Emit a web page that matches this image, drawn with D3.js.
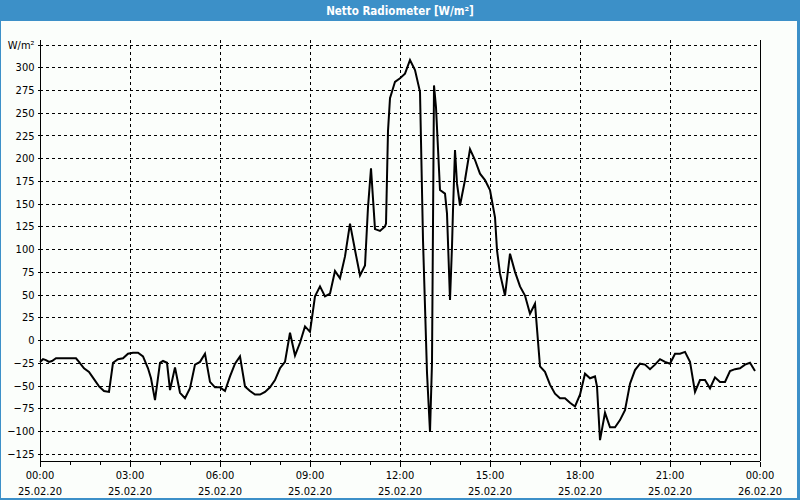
<!DOCTYPE html>
<html><head><meta charset="utf-8">
<script src="https://cdn.jsdelivr.net/npm/d3@7"></script>
<style>
html,body{margin:0;padding:0;background:#fff;}
svg{display:block;}
</style></head>
<body>
<script>
// ---- data ----
const title = "Netto Radiometer [W/m²]";
const unitLabel = "W/m²";
// minutes since 25.02.20 00:00
const minutes = [0,6,12,18,24,32,72,78,88,98,108,118,128,138,146,156,166,176,186,196,206,216,222,230,
240,246,254,260,270,280,290,300,310,320,330,340,350,360,370,380,390,400,410,420,430,440,450,460,470,480,490,
500,510,520,530,540,550,560,570,580,590,600,610,620,630,640,650,656,662,670,680,690,692,696,700,710,720,730,740,750,
760,766,774,780,784,786,788,792,800,810,814,820,824,826,830,834,840,850,860,870,880,890,900,910,914,920,930,940,950,960,970,980,990,
1000,1010,1020,1030,1040,1050,1060,1070,1080,1090,1100,1110,1114,1120,1130,1140,1150,1160,1170,1180,1190,
1200,1210,1220,1230,1240,1250,1260,1270,1280,1290,1300,1310,1320,1330,1340,1350,1360,1370,1380,1390,1400,1410,1420,1430];
const values = [-24,-21,-22,-24,-23,-20,-20,-24,-31,-35,-43,-51,-56,-57,-25,-21,-20,-15,-14,-14,-18,-31,-42,-66,
-25,-23,-25,-55,-30,-58,-64,-53,-27,-24,-15,-46,-52,-52,-56,-40,-26,-18,-51,-56,-60,-60,-57,-52,-44,-31,-24,
8,-17,-3,15,9,48,59,48,51,76,68,92,128,99,71,82,146,189,122,120,125,128,230,266,284,288,293,308,297,
273,110,-36,-101,-25,128,280,256,165,161,139,44,103,143,209,172,148,176,210,198,183,176,165,135,99,73,49,95,75,59,49,29,40,
-29,-35,-49,-59,-64,-64,-69,-73,-60,-37,-42,-40,-51,-110,-80,-96,-96,-88,-77,-48,-33,-26,
-27,-32,-27,-21,-24,-26,-15,-15,-13,-24,-57,-44,-44,-53,-41,-46,-46,-34,-32,-31,-27,-25,-34];
const yTicks = [-125,-100,-75,-50,-25,0,25,50,75,100,125,150,175,200,225,250,275,300,325];
const xTickMinutes = [0,180,360,540,720,900,1080,1260,1440];
const xTickTimes = ["00:00","03:00","06:00","09:00","12:00","15:00","18:00","21:00","00:00"];
const xTickDates = ["25.02.20","25.02.20","25.02.20","25.02.20","25.02.20","25.02.20","25.02.20","25.02.20","26.02.20"];

// ---- drawing ----
const W = 800, H = 500;
const blue = "#3c90c8";
const font = "'DejaVu Sans Condensed','DejaVu Sans',sans-serif";
const svg = d3.select("body").append("svg").attr("width", W).attr("height", H);

svg.append("rect").attr("x",0).attr("y",0).attr("width",W).attr("height",H).attr("fill","#fbfefb");
svg.append("rect").attr("x",0).attr("y",0).attr("width",W).attr("height",21).attr("fill",blue);
svg.append("rect").attr("x",0.5).attr("y",0.5).attr("width",W-2).attr("height",H-1)
  .attr("fill","none").attr("stroke",blue).attr("stroke-width",1);
svg.append("rect").attr("x",797).attr("y",0).attr("width",3).attr("height",H).attr("fill",blue);
svg.append("rect").attr("x",0).attr("y",498).attr("width",W).attr("height",2).attr("fill",blue);
svg.append("text").attr("x",400).attr("y",14.5).attr("text-anchor","middle")
  .attr("fill","#fff").attr("font-family",font).attr("font-weight","bold").attr("font-size","11.5px")
  .text(title);

const x = d3.scaleLinear().domain([0,1440]).range([40,760]);
const y = d3.scaleLinear().domain([-133,330]).range([461,40]);

const g = svg.append("g").attr("shape-rendering","crispEdges");
// horizontal grid
g.selectAll("line.hg").data(yTicks).enter().append("line")
  .attr("x1",40).attr("x2",760)
  .attr("y1",d=>Math.round(y(d))+0.5).attr("y2",d=>Math.round(y(d))+0.5)
  .attr("stroke","#000").attr("stroke-dasharray","3,3");
// vertical grid
g.selectAll("line.vg").data(xTickMinutes.slice(1,-1)).enter().append("line")
  .attr("y1",40).attr("y2",461)
  .attr("x1",d=>Math.round(x(d))+0.5).attr("x2",d=>Math.round(x(d))+0.5)
  .attr("stroke","#000").attr("stroke-dasharray","3,3");

// axes
const yAxis = d3.axisLeft(y).tickValues(yTicks).tickSize(3).tickPadding(3)
  .tickFormat(d => d===325 ? unitLabel : d3.format("d")(d));
const ya = svg.append("g").attr("transform","translate(40.5,0)").call(yAxis);
ya.select(".domain").attr("d","M0,40V461").attr("stroke","#000");
ya.selectAll("text").attr("font-family",font).attr("font-size","11px").attr("fill","#000");

const xMinor = d3.range(0,1441,60);
const xaMinor = svg.append("g").attr("transform","translate(0,461.5)")
  .call(d3.axisBottom(x).tickValues(xMinor).tickSize(3).tickFormat(""));
xaMinor.select(".domain").remove();
const xa = svg.append("g").attr("transform","translate(0,461.5)")
  .call(d3.axisBottom(x).tickValues(xTickMinutes).tickSize(5).tickFormat(""));
xa.select(".domain").attr("d","M40,0H760").attr("stroke","#000");
svg.selectAll(".tick line").attr("shape-rendering","crispEdges");
// two-line labels
const lab = svg.append("g").attr("font-family",font).attr("font-size","11px").attr("fill","#000").attr("text-anchor","middle");
lab.selectAll("text.t").data(xTickMinutes).enter().append("text")
  .attr("x",d=>x(d)).attr("y",479).text((d,i)=>xTickTimes[i]);
lab.selectAll("text.d").data(xTickMinutes).enter().append("text")
  .attr("x",d=>x(d)).attr("y",495).text((d,i)=>xTickDates[i]);
// right border of plot
svg.append("line").attr("x1",760.5).attr("x2",760.5).attr("y1",40).attr("y2",461)
  .attr("stroke","#000").attr("shape-rendering","crispEdges");

// series
const line = d3.line().x((d,i)=>x(minutes[i])).y(d=>y(d));
svg.append("path").datum(values).attr("d",line).attr("fill","none")
  .attr("stroke","#000").attr("stroke-width",2).attr("stroke-linejoin","miter");
</script>
</body></html>
